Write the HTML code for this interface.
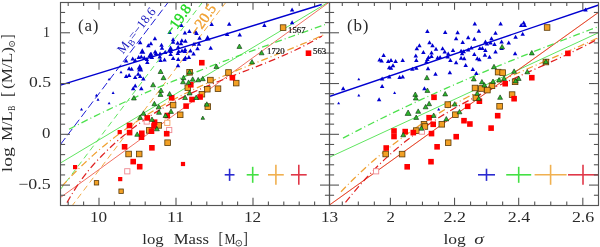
<!DOCTYPE html>
<html><head><meta charset="utf-8"><style>
html,body{margin:0;padding:0;background:#fff;width:600px;height:247px;overflow:hidden;font-family:"Liberation Serif", serif;}
svg{display:block;will-change:transform;}
</style></head><body>
<svg width="600" height="247" viewBox="0 0 600 247" font-family="'Liberation Serif', serif">
<defs>
<clipPath id="clipA"><rect x="60.5" y="2.3" width="269.5" height="202.9"/></clipPath>
<clipPath id="clipB"><rect x="330" y="2.3" width="268.7" height="202.9"/></clipPath>
</defs>
<rect width="600" height="247" fill="white"/>
<g clip-path="url(#clipA)"><line x1="60.50" y1="144.40" x2="168.15" y2="2.30" stroke="#0000d0" stroke-width="0.9" stroke-dasharray="8 3.5"/><line x1="202.40" y1="2.30" x2="60.50" y2="189.32" stroke="#4ee24e" stroke-width="0.9" stroke-dasharray="6 4"/><line x1="225.90" y1="2.30" x2="72.69" y2="205.00" stroke="#f0a030" stroke-width="0.9" stroke-dasharray="6 4"/><line x1="60.50" y1="163.00" x2="329.50" y2="1.50" stroke="#4ee24e" stroke-width="0.9"/><line x1="60.50" y1="197.50" x2="329.50" y2="2.00" stroke="#ee6050" stroke-width="0.9"/><polyline points="69.00,129.27 73.34,127.00 77.68,124.77 82.02,122.55 86.36,120.37 90.69,118.21 95.03,116.07 99.37,113.96 103.71,111.86 108.05,109.80 112.39,107.75 116.73,105.73 121.07,103.73 125.41,101.74 129.75,99.78 134.08,97.84 138.42,95.92 142.76,94.02 147.10,92.13 151.44,90.27 155.78,88.42 160.12,86.58 164.46,84.77 168.80,82.97 173.14,81.18 177.47,79.41 181.81,77.65 186.15,75.91 190.49,74.18 194.83,72.47 199.17,70.77 203.51,69.07 207.85,67.39 212.19,65.73 216.53,64.07 220.86,62.42 225.20,60.78 229.54,59.15 233.88,57.53 238.22,55.92 242.56,54.31 246.90,52.71 251.24,51.12 255.58,49.53 259.92,47.95 264.25,46.37 268.59,44.80 272.93,43.24 277.27,41.67 281.61,40.11 285.95,38.55 290.29,37.00 294.63,35.44 298.97,33.89 303.31,32.34 307.64,30.78 311.98,29.23 316.32,27.68 320.66,26.12 325.00,24.57" fill="none" stroke="#4ee24e" stroke-width="1.3" stroke-dasharray="7 3 1 3"/><polyline points="62.00,186.14 66.46,181.31 70.92,176.61 75.37,172.06 79.83,167.63 84.29,163.34 88.75,159.17 93.20,155.12 97.66,151.20 102.12,147.39 106.58,143.70 111.03,140.11 115.49,136.63 119.95,133.26 124.41,129.98 128.86,126.80 133.32,123.72 137.78,120.72 142.24,117.81 146.69,114.99 151.15,112.24 155.61,109.57 160.07,106.98 164.53,104.45 168.98,101.99 173.44,99.59 177.90,97.25 182.36,94.97 186.81,92.74 191.27,90.56 195.73,88.43 200.19,86.34 204.64,84.29 209.10,82.28 213.56,80.31 218.02,78.36 222.47,76.45 226.93,74.56 231.39,72.69 235.85,70.85 240.31,69.03 244.76,67.22 249.22,65.42 253.68,63.64 258.14,61.86 262.59,60.09 267.05,58.32 271.51,56.54 275.97,54.77 280.42,52.99 284.88,51.20 289.34,49.40 293.80,47.58 298.25,45.75 302.71,43.90 307.17,42.02 311.63,40.12 316.08,38.20 320.54,36.24 325.00,34.25" fill="none" stroke="#f0a030" stroke-width="1.25" stroke-dasharray="7 3 1 3"/><polyline points="67.00,202.59 71.32,195.07 75.64,188.15 79.97,181.76 84.29,175.85 88.61,170.38 92.93,165.27 97.25,160.48 101.58,155.96 105.90,151.64 110.22,147.49 114.54,143.50 118.86,139.66 123.19,135.96 127.51,132.41 131.83,129.00 136.15,125.72 140.47,122.56 144.80,119.53 149.12,116.61 153.44,113.80 157.76,111.10 162.08,108.50 166.41,105.99 170.73,103.58 175.05,101.25 179.37,99.00 183.69,96.83 188.02,94.72 192.34,92.68 196.66,90.70 200.98,88.78 205.31,86.90 209.63,85.07 213.95,83.27 218.27,81.51 222.59,79.78 226.92,78.08 231.24,76.39 235.56,74.71 239.88,73.04 244.20,71.38 248.53,69.71 252.85,68.04 257.17,66.35 261.49,64.64 265.81,62.92 270.14,61.16 274.46,59.37 278.78,57.54 283.10,55.67 287.42,53.75 291.75,51.78 296.07,49.74 300.39,47.65 304.71,45.48 309.03,43.24 313.36,40.92 317.68,38.51 322.00,36.02" fill="none" stroke="#e02020" stroke-width="1.25" stroke-dasharray="7 3 1 3"/><line x1="60.50" y1="85.20" x2="321.70" y2="4.50" stroke="#0000d0" stroke-width="1.35"/></g><g clip-path="url(#clipB)"><line x1="330.00" y1="157.00" x2="598.70" y2="32.60" stroke="#4ee24e" stroke-width="0.9"/><line x1="330.00" y1="204.50" x2="598.70" y2="12.10" stroke="#f0a030" stroke-width="0.6"/><line x1="330.00" y1="204.70" x2="598.70" y2="12.30" stroke="#e02020" stroke-width="0.8"/><polyline points="343.00,138.09 347.33,135.82 351.67,133.56 356.00,131.32 360.34,129.10 364.67,126.90 369.00,124.71 373.34,122.54 377.67,120.39 382.01,118.25 386.34,116.13 390.67,114.02 395.01,111.93 399.34,109.85 403.67,107.79 408.01,105.75 412.34,103.71 416.68,101.69 421.01,99.69 425.34,97.70 429.68,95.72 434.01,93.76 438.35,91.80 442.68,89.86 447.01,87.94 451.35,86.02 455.68,84.12 460.02,82.23 464.35,80.35 468.68,78.48 473.02,76.63 477.35,74.78 481.68,72.94 486.02,71.12 490.35,69.30 494.69,67.50 499.02,65.70 503.35,63.91 507.69,62.13 512.02,60.37 516.36,58.60 520.69,56.85 525.02,55.11 529.36,53.37 533.69,51.64 538.03,49.92 542.36,48.21 546.69,46.50 551.03,44.80 555.36,43.11 559.69,41.42 564.03,39.74 568.36,38.06 572.70,36.39 577.03,34.72 581.36,33.06 585.70,31.41 590.03,29.76 594.37,28.11 598.70,26.47" fill="none" stroke="#4ee24e" stroke-width="1.3" stroke-dasharray="7 3 1 3"/><polyline points="341.00,191.80 345.37,187.26 349.74,182.84 354.10,178.53 358.47,174.33 362.84,170.23 367.21,166.23 371.57,162.33 375.94,158.53 380.31,154.83 384.68,151.22 389.05,147.70 393.41,144.27 397.78,140.92 402.15,137.66 406.52,134.47 410.88,131.37 415.25,128.34 419.62,125.39 423.99,122.50 428.36,119.69 432.72,116.94 437.09,114.25 441.46,111.63 445.83,109.06 450.19,106.55 454.56,104.10 458.93,101.69 463.30,99.34 467.67,97.03 472.03,94.77 476.40,92.55 480.77,90.37 485.14,88.22 489.51,86.11 493.87,84.03 498.24,81.98 502.61,79.96 506.98,77.97 511.34,75.99 515.71,74.04 520.08,72.10 524.45,70.18 528.82,68.27 533.18,66.37 537.55,64.48 541.92,62.59 546.29,60.71 550.65,58.83 555.02,56.94 559.39,55.05 563.76,53.16 568.13,51.25 572.49,49.34 576.86,47.41 581.23,45.46 585.60,43.49 589.96,41.51 594.33,39.49 598.70,37.46" fill="none" stroke="#f0a030" stroke-width="1.25" stroke-dasharray="7 3 1 3"/><polyline points="345.50,202.42 349.79,197.04 354.08,191.84 358.37,186.81 362.67,181.94 366.96,177.23 371.25,172.68 375.54,168.28 379.83,164.02 384.12,159.91 388.42,155.93 392.71,152.08 397.00,148.36 401.29,144.76 405.58,141.28 409.87,137.91 414.16,134.65 418.46,131.49 422.75,128.42 427.04,125.45 431.33,122.57 435.62,119.77 439.91,117.05 444.21,114.40 448.50,111.82 452.79,109.31 457.08,106.85 461.37,104.46 465.66,102.12 469.95,99.83 474.25,97.59 478.54,95.39 482.83,93.23 487.12,91.12 491.41,89.03 495.70,86.98 499.99,84.96 504.29,82.96 508.58,80.99 512.87,79.03 517.16,77.09 521.45,75.16 525.74,73.23 530.04,71.31 534.33,69.40 538.62,67.48 542.91,65.56 547.20,63.63 551.49,61.68 555.78,59.72 560.08,57.75 564.37,55.75 568.66,53.73 572.95,51.68 577.24,49.59 581.53,47.48 585.83,45.32 590.12,43.12 594.41,40.88 598.70,38.59" fill="none" stroke="#e02020" stroke-width="1.25" stroke-dasharray="7 3 1 3"/><line x1="330.00" y1="96.30" x2="598.70" y2="5.00" stroke="#0000d0" stroke-width="1.35"/></g>
<polygon points="137.95,44.23 142.45,44.23 140.20,40.18" fill="#0000d0"/><polygon points="152.65,40.23 157.15,40.23 154.90,36.18" fill="#0000d0"/><polygon points="146.05,47.23 150.55,47.23 148.30,43.18" fill="#0000d0"/><polygon points="148.65,45.23 153.15,45.23 150.90,41.18" fill="#0000d0"/><polygon points="167.35,34.12 171.85,34.12 169.60,30.08" fill="#0000d0"/><polygon points="170.85,41.23 175.35,41.23 173.10,37.18" fill="#0000d0"/><polygon points="170.85,43.73 175.35,43.73 173.10,39.68" fill="#0000d0"/><polygon points="159.25,46.73 163.75,46.73 161.50,42.68" fill="#0000d0"/><polygon points="159.75,49.82 164.25,49.82 162.00,45.77" fill="#0000d0"/><polygon points="167.60,51.00 173.60,51.00 170.60,45.60" fill="#0000d0"/><polygon points="175.45,44.73 179.95,44.73 177.70,40.68" fill="#0000d0"/><polygon points="175.95,48.82 180.45,48.82 178.20,44.77" fill="#0000d0"/><polygon points="179.15,27.12 183.65,27.12 181.40,23.08" fill="#0000d0"/><polygon points="182.65,34.62 187.15,34.62 184.90,30.58" fill="#0000d0"/><polygon points="187.15,33.12 191.65,33.12 189.40,29.08" fill="#0000d0"/><polygon points="193.25,33.62 197.75,33.62 195.50,29.58" fill="#0000d0"/><polygon points="194.25,35.12 198.75,35.12 196.50,31.08" fill="#0000d0"/><polygon points="197.25,39.73 201.75,39.73 199.50,35.68" fill="#0000d0"/><polygon points="204.60,40.40 210.60,40.40 207.60,35.00" fill="#0000d0"/><polygon points="209.35,26.02 213.85,26.02 211.60,21.98" fill="#0000d0"/><polygon points="179.55,42.23 184.05,42.23 181.80,38.18" fill="#0000d0"/><polygon points="183.15,42.73 187.65,42.73 185.40,38.68" fill="#0000d0"/><polygon points="191.75,45.73 196.25,45.73 194.00,41.68" fill="#0000d0"/><polygon points="196.75,45.73 201.25,45.73 199.00,41.68" fill="#0000d0"/><polygon points="195.25,50.32 199.75,50.32 197.50,46.27" fill="#0000d0"/><polygon points="208.45,49.82 212.95,49.82 210.70,45.77" fill="#0000d0"/><polygon points="224.85,36.12 229.35,36.12 227.10,32.08" fill="#0000d0"/><polygon points="237.45,36.62 241.95,36.62 239.70,32.58" fill="#0000d0"/><polygon points="178.75,45.23 183.25,45.23 181.00,41.18" fill="#0000d0"/><polygon points="182.85,51.32 187.35,51.32 185.10,47.27" fill="#0000d0"/><polygon points="226.95,25.72 231.45,25.72 229.20,21.68" fill="#0000d0"/><polygon points="262.15,27.02 266.65,27.02 264.40,22.98" fill="#0000d0"/><polygon points="289.85,11.53 294.35,11.53 292.10,7.47" fill="#0000d0"/><polygon points="289.85,24.22 294.35,24.22 292.10,20.18" fill="#0000d0"/><polygon points="139.30,53.70 145.30,53.70 142.30,48.30" fill="#0000d0"/><polygon points="123.85,62.62 128.35,62.62 126.10,58.58" fill="#0000d0"/><polygon points="130.45,60.62 134.95,60.62 132.70,56.58" fill="#0000d0"/><polygon points="132.95,62.12 137.45,62.12 135.20,58.08" fill="#0000d0"/><polygon points="136.45,59.12 140.95,59.12 138.70,55.08" fill="#0000d0"/><polygon points="139.05,58.62 143.55,58.62 141.30,54.58" fill="#0000d0"/><polygon points="142.05,59.62 146.55,59.62 144.30,55.58" fill="#0000d0"/><polygon points="144.55,61.12 149.05,61.12 146.80,57.08" fill="#0000d0"/><polygon points="145.05,64.12 149.55,64.12 147.30,60.08" fill="#0000d0"/><polygon points="147.40,57.30 153.40,57.30 150.40,51.90" fill="#0000d0"/><polygon points="149.65,59.12 154.15,59.12 151.90,55.08" fill="#0000d0"/><polygon points="152.92,53.62 157.42,53.62 155.17,49.58" fill="#0000d0"/><polygon points="157.75,55.52 162.25,55.52 160.00,51.48" fill="#0000d0"/><polygon points="157.55,58.38 162.05,58.38 159.80,54.33" fill="#0000d0"/><polygon points="158.25,62.12 162.75,62.12 160.50,58.08" fill="#0000d0"/><polygon points="162.25,61.62 166.75,61.62 164.50,57.58" fill="#0000d0"/><polygon points="168.35,56.02 172.85,56.02 170.60,51.98" fill="#0000d0"/><polygon points="170.85,60.12 175.35,60.12 173.10,56.08" fill="#0000d0"/><polygon points="175.95,61.12 180.45,61.12 178.20,57.08" fill="#0000d0"/><polygon points="175.75,67.23 180.25,67.23 178.00,63.18" fill="#0000d0"/><polygon points="168.65,53.02 173.15,53.02 170.90,48.98" fill="#0000d0"/><polygon points="176.45,53.02 180.95,53.02 178.70,48.98" fill="#0000d0"/><polygon points="126.85,70.23 131.35,70.23 129.10,66.17" fill="#0000d0"/><polygon points="129.35,70.73 133.85,70.73 131.60,66.67" fill="#0000d0"/><polygon points="136.70,69.40 142.70,69.40 139.70,64.00" fill="#0000d0"/><polygon points="137.20,71.40 143.20,71.40 140.20,66.00" fill="#0000d0"/><polygon points="119.50,73.15 122.50,73.15 121.00,70.45" fill="#0000d0"/><polygon points="126.85,76.93 131.35,76.93 129.10,72.88" fill="#0000d0"/><polygon points="135.95,75.83 140.45,75.83 138.20,71.77" fill="#0000d0"/><polygon points="182.15,61.12 186.65,61.12 184.40,57.08" fill="#0000d0"/><polygon points="183.15,59.62 187.65,59.62 185.40,55.58" fill="#0000d0"/><polygon points="186.65,59.12 191.15,59.12 188.90,55.08" fill="#0000d0"/><polygon points="191.25,55.52 195.75,55.52 193.50,51.48" fill="#0000d0"/><polygon points="153.75,55.02 158.25,55.02 156.00,50.98" fill="#0000d0"/><polygon points="175.55,55.02 180.05,55.02 177.80,50.98" fill="#0000d0"/><polygon points="182.65,53.02 187.15,53.02 184.90,48.98" fill="#0000d0"/><polygon points="162.85,54.02 167.35,54.02 165.10,49.98" fill="#0000d0"/><polygon points="188.15,52.52 192.65,52.52 190.40,48.48" fill="#0000d0"/><polygon points="179.75,52.52 184.25,52.52 182.00,48.48" fill="#0000d0"/><polygon points="148.85,55.82 153.35,55.82 151.10,51.77" fill="#0000d0"/><polygon points="123.85,78.03 128.35,78.03 126.10,73.97" fill="#0000d0"/><polygon points="132.95,79.03 137.45,79.03 135.20,74.97" fill="#0000d0"/><polygon points="137.95,78.03 142.45,78.03 140.20,73.97" fill="#0000d0"/><polygon points="141.05,80.53 145.55,80.53 143.30,76.47" fill="#0000d0"/><polygon points="132.95,87.62 137.45,87.62 135.20,83.57" fill="#0000d0"/><polygon points="130.95,90.23 135.45,90.23 133.20,86.17" fill="#0000d0"/><polygon points="139.05,90.23 143.55,90.23 141.30,86.17" fill="#0000d0"/><polygon points="107.60,80.35 110.60,80.35 109.10,77.65" fill="#0000d0"/><polygon points="111.60,94.05 114.60,94.05 113.10,91.35" fill="#0000d0"/><polygon points="94.90,96.55 97.90,96.55 96.40,93.85" fill="#0000d0"/><polygon points="96.50,100.65 99.50,100.65 98.00,97.95" fill="#0000d0"/><polygon points="107.60,104.35 110.60,104.35 109.10,101.65" fill="#0000d0"/><polygon points="80.00,110.45 83.00,110.45 81.50,107.75" fill="#0000d0"/><rect x="280.30" y="24.80" width="5.60" height="5.60" fill="#f2a024" stroke="#5a3a08" stroke-width="0.8"/><rect x="186.80" y="69.50" width="5.60" height="5.60" fill="#f2a024" stroke="#5a3a08" stroke-width="0.8"/><rect x="225.70" y="69.70" width="5.60" height="5.60" fill="#f2a024" stroke="#5a3a08" stroke-width="0.8"/><rect x="207.60" y="77.30" width="5.60" height="5.60" fill="#f2a024" stroke="#5a3a08" stroke-width="0.8"/><rect x="233.40" y="80.30" width="5.60" height="5.60" fill="#f2a024" stroke="#5a3a08" stroke-width="0.8"/><rect x="215.20" y="85.90" width="5.60" height="5.60" fill="#f2a024" stroke="#5a3a08" stroke-width="0.8"/><rect x="204.50" y="86.40" width="5.60" height="5.60" fill="#f2a024" stroke="#5a3a08" stroke-width="0.8"/><rect x="185.00" y="84.90" width="5.60" height="5.60" fill="#f2a024" stroke="#5a3a08" stroke-width="0.8"/><rect x="199.10" y="91.40" width="5.60" height="5.60" fill="#f2a024" stroke="#5a3a08" stroke-width="0.8"/><rect x="170.30" y="102.30" width="5.60" height="5.60" fill="#f2a024" stroke="#5a3a08" stroke-width="0.8"/><rect x="177.40" y="112.00" width="5.60" height="5.60" fill="#f2a024" stroke="#5a3a08" stroke-width="0.8"/><rect x="205.00" y="103.80" width="5.60" height="5.60" fill="#f2a024" stroke="#5a3a08" stroke-width="0.8"/><rect x="146.40" y="127.60" width="5.60" height="5.60" fill="#f2a024" stroke="#5a3a08" stroke-width="0.8"/><rect x="164.80" y="139.90" width="5.60" height="5.60" fill="#f2a024" stroke="#5a3a08" stroke-width="0.8"/><rect x="125.80" y="151.20" width="5.60" height="5.60" fill="#f2a024" stroke="#5a3a08" stroke-width="0.8"/><rect x="136.40" y="151.20" width="5.60" height="5.60" fill="#f2a024" stroke="#5a3a08" stroke-width="0.8"/><rect x="94.30" y="180.60" width="4.40" height="4.40" fill="#f2a024" stroke="#5a3a08" stroke-width="0.8"/><rect x="118.90" y="189.00" width="4.40" height="4.40" fill="#f2a024" stroke="#5a3a08" stroke-width="0.8"/><rect x="156.00" y="122.60" width="5.60" height="5.60" fill="#f2a024" stroke="#5a3a08" stroke-width="0.8"/><rect x="164.70" y="120.20" width="5.20" height="5.20" fill="white" stroke="#f4a060" stroke-width="0.9"/><rect x="166.60" y="127.40" width="5.20" height="5.20" fill="white" stroke="#f08890" stroke-width="0.9"/><rect x="144.10" y="118.90" width="5.20" height="5.20" fill="white" stroke="#f08890" stroke-width="0.9"/><rect x="124.70" y="168.70" width="5.20" height="5.20" fill="white" stroke="#f08890" stroke-width="0.9"/><rect x="199.00" y="59.90" width="5.60" height="5.60" fill="#ff0000"/><rect x="229.60" y="74.90" width="5.60" height="5.60" fill="#ff0000"/><rect x="188.00" y="82.00" width="5.60" height="5.60" fill="#ff0000"/><rect x="168.90" y="95.00" width="5.60" height="5.60" fill="#ff0000"/><rect x="197.30" y="94.20" width="5.60" height="5.60" fill="#ff0000"/><rect x="189.20" y="96.70" width="5.60" height="5.60" fill="#ff0000"/><rect x="183.30" y="103.30" width="5.60" height="5.60" fill="#ff0000"/><rect x="144.50" y="115.10" width="5.60" height="5.60" fill="#ff0000"/><rect x="151.80" y="119.40" width="5.60" height="5.60" fill="#ff0000"/><rect x="164.50" y="112.70" width="5.60" height="5.60" fill="#ff0000"/><rect x="139.00" y="130.50" width="5.60" height="5.60" fill="#ff0000"/><rect x="138.70" y="134.40" width="5.60" height="5.60" fill="#ff0000"/><rect x="126.80" y="129.80" width="5.60" height="5.60" fill="#ff0000"/><rect x="126.70" y="122.70" width="5.60" height="5.60" fill="#ff0000"/><rect x="117.60" y="130.00" width="4.20" height="4.20" fill="#ff0000"/><rect x="148.70" y="128.40" width="5.60" height="5.60" fill="#ff0000"/><rect x="151.20" y="123.20" width="5.60" height="5.60" fill="#ff0000"/><rect x="163.90" y="130.90" width="5.60" height="5.60" fill="#ff0000"/><rect x="121.80" y="144.00" width="5.60" height="5.60" fill="#ff0000"/><rect x="149.10" y="145.00" width="5.60" height="5.60" fill="#ff0000"/><rect x="130.40" y="158.80" width="5.60" height="5.60" fill="#ff0000"/><rect x="136.90" y="163.90" width="5.60" height="5.60" fill="#ff0000"/><rect x="73.00" y="165.00" width="4.20" height="4.20" fill="#ff0000"/><rect x="118.10" y="177.00" width="4.20" height="4.20" fill="#ff0000"/><rect x="180.90" y="161.90" width="4.20" height="4.20" fill="#ff0000"/><rect x="305.70" y="50.40" width="5.60" height="5.60" fill="#ff0000"/><polygon points="158.15,73.50 163.05,73.50 160.60,69.09" fill="#2cb82c" stroke="#0a2a0a" stroke-width="0.6"/><polygon points="236.95,48.41 241.85,48.41 239.40,44.00" fill="#2cb82c" stroke="#0a2a0a" stroke-width="0.6"/><polygon points="259.15,54.80 264.05,54.80 261.60,50.40" fill="#2cb82c" stroke="#0a2a0a" stroke-width="0.6"/><polygon points="249.55,63.91 254.45,63.91 252.00,59.50" fill="#2cb82c" stroke="#0a2a0a" stroke-width="0.6"/><polygon points="213.95,68.41 218.85,68.41 216.40,64.00" fill="#2cb82c" stroke="#0a2a0a" stroke-width="0.6"/><polygon points="150.65,86.80 155.55,86.80 153.10,82.39" fill="#2cb82c" stroke="#0a2a0a" stroke-width="0.6"/><polygon points="131.45,100.00 136.35,100.00 133.90,95.59" fill="#2cb82c" stroke="#0a2a0a" stroke-width="0.6"/><polygon points="161.05,79.70 165.95,79.70 163.50,75.30" fill="#2cb82c" stroke="#0a2a0a" stroke-width="0.6"/><polygon points="158.55,92.41 163.45,92.41 161.00,88.00" fill="#2cb82c" stroke="#0a2a0a" stroke-width="0.6"/><polygon points="158.05,96.41 162.95,96.41 160.50,92.00" fill="#2cb82c" stroke="#0a2a0a" stroke-width="0.6"/><polygon points="167.15,95.91 172.05,95.91 169.60,91.50" fill="#2cb82c" stroke="#0a2a0a" stroke-width="0.6"/><polygon points="181.05,79.70 185.95,79.70 183.50,75.30" fill="#2cb82c" stroke="#0a2a0a" stroke-width="0.6"/><polygon points="190.25,81.20 195.15,81.20 192.70,76.80" fill="#2cb82c" stroke="#0a2a0a" stroke-width="0.6"/><polygon points="195.75,81.80 200.65,81.80 198.20,77.39" fill="#2cb82c" stroke="#0a2a0a" stroke-width="0.6"/><polygon points="200.35,80.70 205.25,80.70 202.80,76.30" fill="#2cb82c" stroke="#0a2a0a" stroke-width="0.6"/><polygon points="180.55,83.80 185.45,83.80 183.00,79.39" fill="#2cb82c" stroke="#0a2a0a" stroke-width="0.6"/><polygon points="186.15,84.30 191.05,84.30 188.60,79.89" fill="#2cb82c" stroke="#0a2a0a" stroke-width="0.6"/><polygon points="187.15,94.91 192.05,94.91 189.60,90.50" fill="#2cb82c" stroke="#0a2a0a" stroke-width="0.6"/><polygon points="182.65,99.50 187.55,99.50 185.10,95.09" fill="#2cb82c" stroke="#0a2a0a" stroke-width="0.6"/><polygon points="193.75,99.50 198.65,99.50 196.20,95.09" fill="#2cb82c" stroke="#0a2a0a" stroke-width="0.6"/><polygon points="151.95,105.70 156.85,105.70 154.40,101.30" fill="#2cb82c" stroke="#0a2a0a" stroke-width="0.6"/><polygon points="156.25,108.80 161.15,108.80 158.70,104.39" fill="#2cb82c" stroke="#0a2a0a" stroke-width="0.6"/><polygon points="156.55,114.30 161.45,114.30 159.00,109.89" fill="#2cb82c" stroke="#0a2a0a" stroke-width="0.6"/><polygon points="141.05,115.30 145.95,115.30 143.50,110.89" fill="#2cb82c" stroke="#0a2a0a" stroke-width="0.6"/><polygon points="168.55,113.41 173.45,113.41 171.00,109.00" fill="#2cb82c" stroke="#0a2a0a" stroke-width="0.6"/><polygon points="163.05,117.50 167.95,117.50 165.50,113.09" fill="#2cb82c" stroke="#0a2a0a" stroke-width="0.6"/><polygon points="137.75,119.41 142.65,119.41 140.20,115.00" fill="#2cb82c" stroke="#0a2a0a" stroke-width="0.6"/><polygon points="149.55,121.41 154.45,121.41 152.00,117.00" fill="#2cb82c" stroke="#0a2a0a" stroke-width="0.6"/><polygon points="204.35,106.20 209.25,106.20 206.80,101.80" fill="#2cb82c" stroke="#0a2a0a" stroke-width="0.6"/><polygon points="201.00,119.32 204.60,119.32 202.80,116.08" fill="#2cb82c" stroke="#0a2a0a" stroke-width="0.6"/><polygon points="134.75,136.31 139.65,136.31 137.20,131.89" fill="#2cb82c" stroke="#0a2a0a" stroke-width="0.6"/><polygon points="154.45,130.81 159.35,130.81 156.90,126.39" fill="#2cb82c" stroke="#0a2a0a" stroke-width="0.6"/><polygon points="187.15,74.00 192.05,74.00 189.60,69.59" fill="#2cb82c" stroke="#0a2a0a" stroke-width="0.6"/><polygon points="583.25,11.62 587.75,11.62 585.50,7.57" fill="#0000d0"/><polygon points="472.55,25.62 477.05,25.62 474.80,21.58" fill="#0000d0"/><polygon points="498.35,25.62 502.85,25.62 500.60,21.58" fill="#0000d0"/><polygon points="521.45,24.62 525.95,24.62 523.70,20.58" fill="#0000d0"/><polygon points="518.95,27.12 523.45,27.12 521.20,23.08" fill="#0000d0"/><polygon points="522.45,27.12 526.95,27.12 524.70,23.08" fill="#0000d0"/><polygon points="425.15,33.12 429.65,33.12 427.40,29.08" fill="#0000d0"/><polygon points="442.95,34.12 447.45,34.12 445.20,30.08" fill="#0000d0"/><polygon points="455.35,34.23 459.85,34.23 457.60,30.18" fill="#0000d0"/><polygon points="476.55,32.73 481.05,32.73 478.80,28.68" fill="#0000d0"/><polygon points="493.25,34.73 497.75,34.73 495.50,30.68" fill="#0000d0"/><polygon points="520.45,35.73 524.95,35.73 522.70,31.68" fill="#0000d0"/><polygon points="513.35,38.82 517.85,38.82 515.60,34.77" fill="#0000d0"/><polygon points="453.85,40.32 458.35,40.32 456.10,36.27" fill="#0000d0"/><polygon points="465.95,39.32 470.45,39.32 468.20,35.27" fill="#0000d0"/><polygon points="472.05,40.82 476.55,40.82 474.30,36.77" fill="#0000d0"/><polygon points="489.25,40.32 493.75,40.32 491.50,36.27" fill="#0000d0"/><polygon points="427.25,44.23 431.75,44.23 429.50,40.18" fill="#0000d0"/><polygon points="430.25,47.23 434.75,47.23 432.50,43.18" fill="#0000d0"/><polygon points="417.15,47.23 421.65,47.23 419.40,43.18" fill="#0000d0"/><polygon points="414.55,50.32 419.05,50.32 416.80,46.27" fill="#0000d0"/><polygon points="433.75,50.82 438.25,50.82 436.00,46.77" fill="#0000d0"/><polygon points="440.35,50.32 444.85,50.32 442.60,46.27" fill="#0000d0"/><polygon points="460.45,44.02 464.95,44.02 462.70,39.98" fill="#0000d0"/><polygon points="483.15,43.52 487.65,43.52 485.40,39.48" fill="#0000d0"/><polygon points="484.65,45.62 489.15,45.62 486.90,41.58" fill="#0000d0"/><polygon points="488.25,44.62 492.75,44.62 490.50,40.58" fill="#0000d0"/><polygon points="492.25,46.12 496.75,46.12 494.50,42.08" fill="#0000d0"/><polygon points="499.35,43.52 503.85,43.52 501.60,39.48" fill="#0000d0"/><polygon points="506.45,44.62 510.95,44.62 508.70,40.58" fill="#0000d0"/><polygon points="469.05,49.62 473.55,49.62 471.30,45.58" fill="#0000d0"/><polygon points="477.65,50.12 482.15,50.12 479.90,46.08" fill="#0000d0"/><polygon points="480.15,50.12 484.65,50.12 482.40,46.08" fill="#0000d0"/><polygon points="483.15,52.12 487.65,52.12 485.40,48.08" fill="#0000d0"/><polygon points="450.75,52.12 455.25,52.12 453.00,48.08" fill="#0000d0"/><polygon points="458.85,52.73 463.35,52.73 461.10,48.68" fill="#0000d0"/><polygon points="461.45,53.23 465.95,53.23 463.70,49.18" fill="#0000d0"/><polygon points="465.95,51.62 470.45,51.62 468.20,47.58" fill="#0000d0"/><polygon points="493.25,53.48 497.75,53.48 495.50,49.43" fill="#0000d0"/><polygon points="459.85,55.23 464.35,55.23 462.10,51.18" fill="#0000d0"/><polygon points="472.05,55.98 476.55,55.98 474.30,51.93" fill="#0000d0"/><polygon points="482.65,56.73 487.15,56.73 484.90,52.68" fill="#0000d0"/><polygon points="487.25,58.73 491.75,58.73 489.50,54.68" fill="#0000d0"/><polygon points="458.85,59.73 463.35,59.73 461.10,55.68" fill="#0000d0"/><polygon points="461.95,60.23 466.45,60.23 464.20,56.18" fill="#0000d0"/><polygon points="475.05,60.23 479.55,60.23 477.30,56.18" fill="#0000d0"/><polygon points="477.15,61.32 481.65,61.32 479.40,57.27" fill="#0000d0"/><polygon points="448.10,61.98 452.60,61.98 450.35,57.93" fill="#0000d0"/><polygon points="499.35,50.12 503.85,50.12 501.60,46.08" fill="#0000d0"/><polygon points="453.85,64.33 458.35,64.33 456.10,60.27" fill="#0000d0"/><polygon points="512.85,55.23 517.35,55.23 515.10,51.18" fill="#0000d0"/><polygon points="421.15,54.02 425.65,54.02 423.40,49.98" fill="#0000d0"/><polygon points="429.25,54.52 433.75,54.52 431.50,50.48" fill="#0000d0"/><polygon points="429.25,58.12 433.75,58.12 431.50,54.08" fill="#0000d0"/><polygon points="426.25,59.12 430.75,59.12 428.50,55.08" fill="#0000d0"/><polygon points="425.15,61.12 429.65,61.12 427.40,57.08" fill="#0000d0"/><polygon points="424.15,63.62 428.65,63.62 426.40,59.58" fill="#0000d0"/><polygon points="435.35,59.62 439.85,59.62 437.60,55.58" fill="#0000d0"/><polygon points="437.85,59.12 442.35,59.12 440.10,55.08" fill="#0000d0"/><polygon points="442.45,53.52 446.95,53.52 444.70,49.48" fill="#0000d0"/><polygon points="445.95,55.52 450.45,55.52 448.20,51.48" fill="#0000d0"/><polygon points="445.45,58.62 449.95,58.62 447.70,54.58" fill="#0000d0"/><polygon points="413.55,57.62 418.05,57.62 415.80,53.58" fill="#0000d0"/><polygon points="414.05,62.12 418.55,62.12 416.30,58.08" fill="#0000d0"/><polygon points="400.45,62.12 404.95,62.12 402.70,58.08" fill="#0000d0"/><polygon points="393.35,63.12 397.85,63.12 395.60,59.08" fill="#0000d0"/><polygon points="388.75,62.12 393.25,62.12 391.00,58.08" fill="#0000d0"/><polygon points="390.75,67.23 395.25,67.23 393.00,63.18" fill="#0000d0"/><polygon points="388.75,69.73 393.25,69.73 391.00,65.67" fill="#0000d0"/><polygon points="410.05,70.73 414.55,70.73 412.30,66.67" fill="#0000d0"/><polygon points="414.05,69.73 418.55,69.73 416.30,65.67" fill="#0000d0"/><polygon points="425.75,70.23 430.25,70.23 428.00,66.17" fill="#0000d0"/><polygon points="433.25,75.83 437.75,75.83 435.50,71.77" fill="#0000d0"/><polygon points="447.60,74.22 452.10,74.22 449.85,70.17" fill="#0000d0"/><polygon points="381.35,57.12 385.85,57.12 383.60,53.08" fill="#0000d0"/><polygon points="377.35,61.62 381.85,61.62 379.60,57.58" fill="#0000d0"/><polygon points="379.35,62.62 383.85,62.62 381.60,58.58" fill="#0000d0"/><polygon points="385.95,63.12 390.45,63.12 388.20,59.08" fill="#0000d0"/><polygon points="386.95,69.23 391.45,69.23 389.20,65.17" fill="#0000d0"/><polygon points="340.95,90.23 345.45,90.23 343.20,86.17" fill="#0000d0"/><polygon points="357.30,80.35 360.30,80.35 358.80,77.65" fill="#0000d0"/><polygon points="357.30,96.55 360.30,96.55 358.80,93.85" fill="#0000d0"/><polygon points="379.85,80.53 384.35,80.53 382.10,76.47" fill="#0000d0"/><polygon points="379.85,88.12 384.35,88.12 382.10,84.07" fill="#0000d0"/><polygon points="376.85,101.33 381.35,101.33 379.10,97.27" fill="#0000d0"/><polygon points="386.95,78.53 391.45,78.53 389.20,74.47" fill="#0000d0"/><polygon points="397.35,79.03 401.85,79.03 399.60,74.97" fill="#0000d0"/><polygon points="400.45,78.53 404.95,78.53 402.70,74.47" fill="#0000d0"/><polygon points="422.15,90.23 426.65,90.23 424.40,86.17" fill="#0000d0"/><polygon points="393.10,94.05 396.10,94.05 394.60,91.35" fill="#0000d0"/><polygon points="463.45,67.03 467.95,67.03 465.70,62.98" fill="#0000d0"/><polygon points="470.55,71.12 475.05,71.12 472.80,67.07" fill="#0000d0"/><polygon points="474.05,75.12 478.55,75.12 476.30,71.07" fill="#0000d0"/><polygon points="337.10,104.35 340.10,104.35 338.60,101.65" fill="#0000d0"/><polygon points="437.20,110.45 440.20,110.45 438.70,107.75" fill="#0000d0"/><rect x="544.30" y="24.70" width="5.60" height="5.60" fill="#f2a024" stroke="#5a3a08" stroke-width="0.8"/><rect x="495.30" y="69.30" width="5.60" height="5.60" fill="#f2a024" stroke="#5a3a08" stroke-width="0.8"/><rect x="499.80" y="69.80" width="5.60" height="5.60" fill="#f2a024" stroke="#5a3a08" stroke-width="0.8"/><rect x="489.20" y="83.00" width="5.60" height="5.60" fill="#f2a024" stroke="#5a3a08" stroke-width="0.8"/><rect x="472.20" y="85.20" width="5.60" height="5.60" fill="#f2a024" stroke="#5a3a08" stroke-width="0.8"/><rect x="484.60" y="87.30" width="5.60" height="5.60" fill="#f2a024" stroke="#5a3a08" stroke-width="0.8"/><rect x="478.60" y="85.70" width="5.60" height="5.60" fill="#f2a024" stroke="#5a3a08" stroke-width="0.8"/><rect x="473.00" y="94.90" width="5.60" height="5.60" fill="#f2a024" stroke="#5a3a08" stroke-width="0.8"/><rect x="496.80" y="103.50" width="5.60" height="5.60" fill="#f2a024" stroke="#5a3a08" stroke-width="0.8"/><rect x="509.30" y="91.80" width="5.60" height="5.60" fill="#f2a024" stroke="#5a3a08" stroke-width="0.8"/><rect x="512.30" y="79.00" width="5.60" height="5.60" fill="#f2a024" stroke="#5a3a08" stroke-width="0.8"/><rect x="445.00" y="101.80" width="5.60" height="5.60" fill="#f2a024" stroke="#5a3a08" stroke-width="0.8"/><rect x="452.60" y="111.90" width="5.60" height="5.60" fill="#f2a024" stroke="#5a3a08" stroke-width="0.8"/><rect x="439.00" y="121.50" width="5.60" height="5.60" fill="#f2a024" stroke="#5a3a08" stroke-width="0.8"/><rect x="421.20" y="121.50" width="5.60" height="5.60" fill="#f2a024" stroke="#5a3a08" stroke-width="0.8"/><rect x="445.40" y="139.90" width="5.60" height="5.60" fill="#f2a024" stroke="#5a3a08" stroke-width="0.8"/><rect x="399.30" y="151.30" width="5.60" height="5.60" fill="#f2a024" stroke="#5a3a08" stroke-width="0.8"/><rect x="382.90" y="151.20" width="5.60" height="5.60" fill="#f2a024" stroke="#5a3a08" stroke-width="0.8"/><rect x="413.50" y="127.80" width="5.60" height="5.60" fill="#f2a024" stroke="#5a3a08" stroke-width="0.8"/><rect x="422.10" y="123.70" width="5.60" height="5.60" fill="#f2a024" stroke="#5a3a08" stroke-width="0.8"/><rect x="543.10" y="59.20" width="5.60" height="5.60" fill="#f2a024" stroke="#5a3a08" stroke-width="0.8"/><rect x="373.50" y="168.70" width="5.20" height="5.20" fill="white" stroke="#f08890" stroke-width="0.9"/><rect x="419.30" y="129.00" width="5.20" height="5.20" fill="white" stroke="#f08890" stroke-width="0.9"/><rect x="565.10" y="50.60" width="5.60" height="5.60" fill="#ff0000"/><rect x="502.40" y="80.90" width="5.60" height="5.60" fill="#ff0000"/><rect x="529.00" y="74.90" width="5.60" height="5.60" fill="#ff0000"/><rect x="476.60" y="98.40" width="5.60" height="5.60" fill="#ff0000"/><rect x="464.90" y="103.50" width="5.60" height="5.60" fill="#ff0000"/><rect x="431.20" y="94.50" width="5.60" height="5.60" fill="#ff0000"/><rect x="426.30" y="114.90" width="5.60" height="5.60" fill="#ff0000"/><rect x="461.20" y="117.90" width="5.60" height="5.60" fill="#ff0000"/><rect x="467.10" y="121.20" width="5.60" height="5.60" fill="#ff0000"/><rect x="430.40" y="121.50" width="5.60" height="5.60" fill="#ff0000"/><rect x="494.90" y="112.90" width="5.60" height="5.60" fill="#ff0000"/><rect x="511.30" y="95.90" width="5.60" height="5.60" fill="#ff0000"/><rect x="391.20" y="128.20" width="5.60" height="5.60" fill="#ff0000"/><rect x="391.20" y="133.70" width="5.60" height="5.60" fill="#ff0000"/><rect x="402.40" y="128.80" width="5.60" height="5.60" fill="#ff0000"/><rect x="410.50" y="129.80" width="5.60" height="5.60" fill="#ff0000"/><rect x="428.70" y="130.80" width="5.60" height="5.60" fill="#ff0000"/><rect x="434.30" y="144.00" width="5.60" height="5.60" fill="#ff0000"/><rect x="453.40" y="133.90" width="5.60" height="5.60" fill="#ff0000"/><rect x="488.30" y="125.30" width="5.60" height="5.60" fill="#ff0000"/><rect x="428.20" y="158.90" width="5.60" height="5.60" fill="#ff0000"/><rect x="404.40" y="164.00" width="5.60" height="5.60" fill="#ff0000"/><rect x="383.40" y="145.20" width="5.60" height="5.60" fill="#ff0000"/><polygon points="499.65,48.80 504.55,48.80 502.10,44.40" fill="#2cb82c" stroke="#0a2a0a" stroke-width="0.6"/><polygon points="529.35,54.91 534.25,54.91 531.80,50.50" fill="#2cb82c" stroke="#0a2a0a" stroke-width="0.6"/><polygon points="491.55,68.70 496.45,68.70 494.00,64.30" fill="#2cb82c" stroke="#0a2a0a" stroke-width="0.6"/><polygon points="471.35,80.91 476.25,80.91 473.80,76.50" fill="#2cb82c" stroke="#0a2a0a" stroke-width="0.6"/><polygon points="479.45,83.91 484.35,83.91 481.90,79.50" fill="#2cb82c" stroke="#0a2a0a" stroke-width="0.6"/><polygon points="481.95,87.00 486.85,87.00 484.40,82.59" fill="#2cb82c" stroke="#0a2a0a" stroke-width="0.6"/><polygon points="490.55,83.41 495.45,83.41 493.00,79.00" fill="#2cb82c" stroke="#0a2a0a" stroke-width="0.6"/><polygon points="496.65,81.91 501.55,81.91 499.10,77.50" fill="#2cb82c" stroke="#0a2a0a" stroke-width="0.6"/><polygon points="501.65,80.41 506.55,80.41 504.10,76.00" fill="#2cb82c" stroke="#0a2a0a" stroke-width="0.6"/><polygon points="424.45,79.70 429.35,79.70 426.90,75.30" fill="#2cb82c" stroke="#0a2a0a" stroke-width="0.6"/><polygon points="424.95,92.41 429.85,92.41 427.40,88.00" fill="#2cb82c" stroke="#0a2a0a" stroke-width="0.6"/><polygon points="442.75,95.91 447.65,95.91 445.20,91.50" fill="#2cb82c" stroke="#0a2a0a" stroke-width="0.6"/><polygon points="412.85,96.41 417.75,96.41 415.30,92.00" fill="#2cb82c" stroke="#0a2a0a" stroke-width="0.6"/><polygon points="413.35,100.00 418.25,100.00 415.80,95.59" fill="#2cb82c" stroke="#0a2a0a" stroke-width="0.6"/><polygon points="474.85,95.30 479.75,95.30 477.30,90.89" fill="#2cb82c" stroke="#0a2a0a" stroke-width="0.6"/><polygon points="476.35,100.41 481.25,100.41 478.80,96.00" fill="#2cb82c" stroke="#0a2a0a" stroke-width="0.6"/><polygon points="497.65,99.30 502.55,99.30 500.10,94.89" fill="#2cb82c" stroke="#0a2a0a" stroke-width="0.6"/><polygon points="452.30,106.05 457.20,106.05 454.75,101.64" fill="#2cb82c" stroke="#0a2a0a" stroke-width="0.6"/><polygon points="511.65,73.30 516.55,73.30 514.10,68.89" fill="#2cb82c" stroke="#0a2a0a" stroke-width="0.6"/><polygon points="524.85,73.80 529.75,73.80 527.30,69.39" fill="#2cb82c" stroke="#0a2a0a" stroke-width="0.6"/><polygon points="516.25,80.41 521.15,80.41 518.70,76.00" fill="#2cb82c" stroke="#0a2a0a" stroke-width="0.6"/><polygon points="513.15,82.91 518.05,82.91 515.60,78.50" fill="#2cb82c" stroke="#0a2a0a" stroke-width="0.6"/><polygon points="405.10,115.40 411.10,115.40 408.10,110.00" fill="#2cb82c" stroke="#0a2a0a" stroke-width="0.6"/><polygon points="415.75,113.30 420.65,113.30 418.20,108.89" fill="#2cb82c" stroke="#0a2a0a" stroke-width="0.6"/><polygon points="413.75,119.41 418.65,119.41 416.20,115.00" fill="#2cb82c" stroke="#0a2a0a" stroke-width="0.6"/><polygon points="423.15,108.80 428.05,108.80 425.60,104.39" fill="#2cb82c" stroke="#0a2a0a" stroke-width="0.6"/><polygon points="426.65,105.70 431.55,105.70 429.10,101.30" fill="#2cb82c" stroke="#0a2a0a" stroke-width="0.6"/><polygon points="431.25,117.41 436.15,117.41 433.70,113.00" fill="#2cb82c" stroke="#0a2a0a" stroke-width="0.6"/><polygon points="457.05,113.80 461.95,113.80 459.50,109.39" fill="#2cb82c" stroke="#0a2a0a" stroke-width="0.6"/><polygon points="443.85,120.91 448.75,120.91 446.30,116.50" fill="#2cb82c" stroke="#0a2a0a" stroke-width="0.6"/><polygon points="400.75,136.81 405.65,136.81 403.20,132.39" fill="#2cb82c" stroke="#0a2a0a" stroke-width="0.6"/><polygon points="418.95,130.21 423.85,130.21 421.40,125.80" fill="#2cb82c" stroke="#0a2a0a" stroke-width="0.6"/><polygon points="543.45,63.50 548.35,63.50 545.90,59.09" fill="#2cb82c" stroke="#0a2a0a" stroke-width="0.6"/>
<line x1="224.70" y1="174.80" x2="234.50" y2="174.80" stroke="#2a2ad0" stroke-width="1.6"/><line x1="229.60" y1="168.70" x2="229.60" y2="180.90" stroke="#2a2ad0" stroke-width="1.6"/><line x1="246.70" y1="174.80" x2="258.70" y2="174.80" stroke="#44e044" stroke-width="1.6"/><line x1="252.70" y1="166.80" x2="252.70" y2="182.80" stroke="#44e044" stroke-width="1.6"/><line x1="268.00" y1="174.80" x2="283.80" y2="174.80" stroke="#f0b050" stroke-width="1.6"/><line x1="275.90" y1="164.80" x2="275.90" y2="184.80" stroke="#f0b050" stroke-width="1.6"/><line x1="290.90" y1="174.80" x2="306.70" y2="174.80" stroke="#e03848" stroke-width="1.6"/><line x1="298.80" y1="164.80" x2="298.80" y2="184.80" stroke="#e03848" stroke-width="1.6"/><line x1="478.00" y1="174.80" x2="495.00" y2="174.80" stroke="#2a2ad0" stroke-width="1.6"/><line x1="486.50" y1="168.70" x2="486.50" y2="180.90" stroke="#2a2ad0" stroke-width="1.6"/><line x1="506.20" y1="174.80" x2="531.20" y2="174.80" stroke="#44e044" stroke-width="1.6"/><line x1="518.70" y1="166.80" x2="518.70" y2="182.80" stroke="#44e044" stroke-width="1.6"/><line x1="534.60" y1="174.80" x2="566.60" y2="174.80" stroke="#f0b050" stroke-width="1.6"/><line x1="550.60" y1="164.80" x2="550.60" y2="184.80" stroke="#f0b050" stroke-width="1.6"/><line x1="568.00" y1="174.80" x2="598.00" y2="174.80" stroke="#e03848" stroke-width="1.6"/><line x1="583.00" y1="164.80" x2="583.00" y2="184.80" stroke="#e03848" stroke-width="1.6"/>
<rect x="60.5" y="2.5" width="269" height="203" fill="none" stroke="#555555" stroke-width="1.15"/><rect x="329.5" y="2.5" width="269" height="203" fill="none" stroke="#555555" stroke-width="1.15"/><line x1="60.50" y1="195.25" x2="65.10" y2="195.25" stroke="#555555" stroke-width="1.1"/><line x1="329.50" y1="195.25" x2="334.10" y2="195.25" stroke="#555555" stroke-width="1.1"/><line x1="329.50" y1="195.25" x2="324.90" y2="195.25" stroke="#555555" stroke-width="1.1"/><line x1="598.50" y1="195.25" x2="593.90" y2="195.25" stroke="#555555" stroke-width="1.1"/><line x1="60.50" y1="185.09" x2="70.00" y2="185.09" stroke="#555555" stroke-width="1.1"/><line x1="329.50" y1="185.09" x2="339.00" y2="185.09" stroke="#555555" stroke-width="1.1"/><line x1="329.50" y1="185.09" x2="320.00" y2="185.09" stroke="#555555" stroke-width="1.1"/><line x1="598.50" y1="185.09" x2="589.00" y2="185.09" stroke="#555555" stroke-width="1.1"/><line x1="60.50" y1="174.94" x2="65.10" y2="174.94" stroke="#555555" stroke-width="1.1"/><line x1="329.50" y1="174.94" x2="334.10" y2="174.94" stroke="#555555" stroke-width="1.1"/><line x1="329.50" y1="174.94" x2="324.90" y2="174.94" stroke="#555555" stroke-width="1.1"/><line x1="598.50" y1="174.94" x2="593.90" y2="174.94" stroke="#555555" stroke-width="1.1"/><line x1="60.50" y1="164.78" x2="65.10" y2="164.78" stroke="#555555" stroke-width="1.1"/><line x1="329.50" y1="164.78" x2="334.10" y2="164.78" stroke="#555555" stroke-width="1.1"/><line x1="329.50" y1="164.78" x2="324.90" y2="164.78" stroke="#555555" stroke-width="1.1"/><line x1="598.50" y1="164.78" x2="593.90" y2="164.78" stroke="#555555" stroke-width="1.1"/><line x1="60.50" y1="154.62" x2="65.10" y2="154.62" stroke="#555555" stroke-width="1.1"/><line x1="329.50" y1="154.62" x2="334.10" y2="154.62" stroke="#555555" stroke-width="1.1"/><line x1="329.50" y1="154.62" x2="324.90" y2="154.62" stroke="#555555" stroke-width="1.1"/><line x1="598.50" y1="154.62" x2="593.90" y2="154.62" stroke="#555555" stroke-width="1.1"/><line x1="60.50" y1="144.47" x2="65.10" y2="144.47" stroke="#555555" stroke-width="1.1"/><line x1="329.50" y1="144.47" x2="334.10" y2="144.47" stroke="#555555" stroke-width="1.1"/><line x1="329.50" y1="144.47" x2="324.90" y2="144.47" stroke="#555555" stroke-width="1.1"/><line x1="598.50" y1="144.47" x2="593.90" y2="144.47" stroke="#555555" stroke-width="1.1"/><line x1="60.50" y1="134.32" x2="70.00" y2="134.32" stroke="#555555" stroke-width="1.1"/><line x1="329.50" y1="134.32" x2="339.00" y2="134.32" stroke="#555555" stroke-width="1.1"/><line x1="329.50" y1="134.32" x2="320.00" y2="134.32" stroke="#555555" stroke-width="1.1"/><line x1="598.50" y1="134.32" x2="589.00" y2="134.32" stroke="#555555" stroke-width="1.1"/><line x1="60.50" y1="124.16" x2="65.10" y2="124.16" stroke="#555555" stroke-width="1.1"/><line x1="329.50" y1="124.16" x2="334.10" y2="124.16" stroke="#555555" stroke-width="1.1"/><line x1="329.50" y1="124.16" x2="324.90" y2="124.16" stroke="#555555" stroke-width="1.1"/><line x1="598.50" y1="124.16" x2="593.90" y2="124.16" stroke="#555555" stroke-width="1.1"/><line x1="60.50" y1="114.01" x2="65.10" y2="114.01" stroke="#555555" stroke-width="1.1"/><line x1="329.50" y1="114.01" x2="334.10" y2="114.01" stroke="#555555" stroke-width="1.1"/><line x1="329.50" y1="114.01" x2="324.90" y2="114.01" stroke="#555555" stroke-width="1.1"/><line x1="598.50" y1="114.01" x2="593.90" y2="114.01" stroke="#555555" stroke-width="1.1"/><line x1="60.50" y1="103.85" x2="65.10" y2="103.85" stroke="#555555" stroke-width="1.1"/><line x1="329.50" y1="103.85" x2="334.10" y2="103.85" stroke="#555555" stroke-width="1.1"/><line x1="329.50" y1="103.85" x2="324.90" y2="103.85" stroke="#555555" stroke-width="1.1"/><line x1="598.50" y1="103.85" x2="593.90" y2="103.85" stroke="#555555" stroke-width="1.1"/><line x1="60.50" y1="93.69" x2="65.10" y2="93.69" stroke="#555555" stroke-width="1.1"/><line x1="329.50" y1="93.69" x2="334.10" y2="93.69" stroke="#555555" stroke-width="1.1"/><line x1="329.50" y1="93.69" x2="324.90" y2="93.69" stroke="#555555" stroke-width="1.1"/><line x1="598.50" y1="93.69" x2="593.90" y2="93.69" stroke="#555555" stroke-width="1.1"/><line x1="60.50" y1="83.54" x2="70.00" y2="83.54" stroke="#555555" stroke-width="1.1"/><line x1="329.50" y1="83.54" x2="339.00" y2="83.54" stroke="#555555" stroke-width="1.1"/><line x1="329.50" y1="83.54" x2="320.00" y2="83.54" stroke="#555555" stroke-width="1.1"/><line x1="598.50" y1="83.54" x2="589.00" y2="83.54" stroke="#555555" stroke-width="1.1"/><line x1="60.50" y1="73.39" x2="65.10" y2="73.39" stroke="#555555" stroke-width="1.1"/><line x1="329.50" y1="73.39" x2="334.10" y2="73.39" stroke="#555555" stroke-width="1.1"/><line x1="329.50" y1="73.39" x2="324.90" y2="73.39" stroke="#555555" stroke-width="1.1"/><line x1="598.50" y1="73.39" x2="593.90" y2="73.39" stroke="#555555" stroke-width="1.1"/><line x1="60.50" y1="63.23" x2="65.10" y2="63.23" stroke="#555555" stroke-width="1.1"/><line x1="329.50" y1="63.23" x2="334.10" y2="63.23" stroke="#555555" stroke-width="1.1"/><line x1="329.50" y1="63.23" x2="324.90" y2="63.23" stroke="#555555" stroke-width="1.1"/><line x1="598.50" y1="63.23" x2="593.90" y2="63.23" stroke="#555555" stroke-width="1.1"/><line x1="60.50" y1="53.07" x2="65.10" y2="53.07" stroke="#555555" stroke-width="1.1"/><line x1="329.50" y1="53.07" x2="334.10" y2="53.07" stroke="#555555" stroke-width="1.1"/><line x1="329.50" y1="53.07" x2="324.90" y2="53.07" stroke="#555555" stroke-width="1.1"/><line x1="598.50" y1="53.07" x2="593.90" y2="53.07" stroke="#555555" stroke-width="1.1"/><line x1="60.50" y1="42.92" x2="65.10" y2="42.92" stroke="#555555" stroke-width="1.1"/><line x1="329.50" y1="42.92" x2="334.10" y2="42.92" stroke="#555555" stroke-width="1.1"/><line x1="329.50" y1="42.92" x2="324.90" y2="42.92" stroke="#555555" stroke-width="1.1"/><line x1="598.50" y1="42.92" x2="593.90" y2="42.92" stroke="#555555" stroke-width="1.1"/><line x1="60.50" y1="32.77" x2="70.00" y2="32.77" stroke="#555555" stroke-width="1.1"/><line x1="329.50" y1="32.77" x2="339.00" y2="32.77" stroke="#555555" stroke-width="1.1"/><line x1="329.50" y1="32.77" x2="320.00" y2="32.77" stroke="#555555" stroke-width="1.1"/><line x1="598.50" y1="32.77" x2="589.00" y2="32.77" stroke="#555555" stroke-width="1.1"/><line x1="60.50" y1="22.61" x2="65.10" y2="22.61" stroke="#555555" stroke-width="1.1"/><line x1="329.50" y1="22.61" x2="334.10" y2="22.61" stroke="#555555" stroke-width="1.1"/><line x1="329.50" y1="22.61" x2="324.90" y2="22.61" stroke="#555555" stroke-width="1.1"/><line x1="598.50" y1="22.61" x2="593.90" y2="22.61" stroke="#555555" stroke-width="1.1"/><line x1="60.50" y1="12.46" x2="65.10" y2="12.46" stroke="#555555" stroke-width="1.1"/><line x1="329.50" y1="12.46" x2="334.10" y2="12.46" stroke="#555555" stroke-width="1.1"/><line x1="329.50" y1="12.46" x2="324.90" y2="12.46" stroke="#555555" stroke-width="1.1"/><line x1="598.50" y1="12.46" x2="593.90" y2="12.46" stroke="#555555" stroke-width="1.1"/><line x1="68.20" y1="205.20" x2="68.20" y2="201.60" stroke="#555555" stroke-width="1.1"/><line x1="68.20" y1="2.30" x2="68.20" y2="5.90" stroke="#555555" stroke-width="1.1"/><line x1="83.60" y1="205.20" x2="83.60" y2="201.60" stroke="#555555" stroke-width="1.1"/><line x1="83.60" y1="2.30" x2="83.60" y2="5.90" stroke="#555555" stroke-width="1.1"/><line x1="99.00" y1="205.20" x2="99.00" y2="197.70" stroke="#555555" stroke-width="1.1"/><line x1="99.00" y1="2.30" x2="99.00" y2="9.80" stroke="#555555" stroke-width="1.1"/><line x1="114.40" y1="205.20" x2="114.40" y2="201.60" stroke="#555555" stroke-width="1.1"/><line x1="114.40" y1="2.30" x2="114.40" y2="5.90" stroke="#555555" stroke-width="1.1"/><line x1="129.80" y1="205.20" x2="129.80" y2="201.60" stroke="#555555" stroke-width="1.1"/><line x1="129.80" y1="2.30" x2="129.80" y2="5.90" stroke="#555555" stroke-width="1.1"/><line x1="145.20" y1="205.20" x2="145.20" y2="201.60" stroke="#555555" stroke-width="1.1"/><line x1="145.20" y1="2.30" x2="145.20" y2="5.90" stroke="#555555" stroke-width="1.1"/><line x1="160.60" y1="205.20" x2="160.60" y2="201.60" stroke="#555555" stroke-width="1.1"/><line x1="160.60" y1="2.30" x2="160.60" y2="5.90" stroke="#555555" stroke-width="1.1"/><line x1="176.00" y1="205.20" x2="176.00" y2="197.70" stroke="#555555" stroke-width="1.1"/><line x1="176.00" y1="2.30" x2="176.00" y2="9.80" stroke="#555555" stroke-width="1.1"/><line x1="191.40" y1="205.20" x2="191.40" y2="201.60" stroke="#555555" stroke-width="1.1"/><line x1="191.40" y1="2.30" x2="191.40" y2="5.90" stroke="#555555" stroke-width="1.1"/><line x1="206.80" y1="205.20" x2="206.80" y2="201.60" stroke="#555555" stroke-width="1.1"/><line x1="206.80" y1="2.30" x2="206.80" y2="5.90" stroke="#555555" stroke-width="1.1"/><line x1="222.20" y1="205.20" x2="222.20" y2="201.60" stroke="#555555" stroke-width="1.1"/><line x1="222.20" y1="2.30" x2="222.20" y2="5.90" stroke="#555555" stroke-width="1.1"/><line x1="237.60" y1="205.20" x2="237.60" y2="201.60" stroke="#555555" stroke-width="1.1"/><line x1="237.60" y1="2.30" x2="237.60" y2="5.90" stroke="#555555" stroke-width="1.1"/><line x1="253.00" y1="205.20" x2="253.00" y2="197.70" stroke="#555555" stroke-width="1.1"/><line x1="253.00" y1="2.30" x2="253.00" y2="9.80" stroke="#555555" stroke-width="1.1"/><line x1="268.40" y1="205.20" x2="268.40" y2="201.60" stroke="#555555" stroke-width="1.1"/><line x1="268.40" y1="2.30" x2="268.40" y2="5.90" stroke="#555555" stroke-width="1.1"/><line x1="283.80" y1="205.20" x2="283.80" y2="201.60" stroke="#555555" stroke-width="1.1"/><line x1="283.80" y1="2.30" x2="283.80" y2="5.90" stroke="#555555" stroke-width="1.1"/><line x1="299.20" y1="205.20" x2="299.20" y2="201.60" stroke="#555555" stroke-width="1.1"/><line x1="299.20" y1="2.30" x2="299.20" y2="5.90" stroke="#555555" stroke-width="1.1"/><line x1="314.60" y1="205.20" x2="314.60" y2="201.60" stroke="#555555" stroke-width="1.1"/><line x1="314.60" y1="2.30" x2="314.60" y2="5.90" stroke="#555555" stroke-width="1.1"/><line x1="342.30" y1="205.20" x2="342.30" y2="201.60" stroke="#555555" stroke-width="1.1"/><line x1="342.30" y1="2.30" x2="342.30" y2="5.90" stroke="#555555" stroke-width="1.1"/><line x1="358.33" y1="205.20" x2="358.33" y2="201.60" stroke="#555555" stroke-width="1.1"/><line x1="358.33" y1="2.30" x2="358.33" y2="5.90" stroke="#555555" stroke-width="1.1"/><line x1="374.36" y1="205.20" x2="374.36" y2="201.60" stroke="#555555" stroke-width="1.1"/><line x1="374.36" y1="2.30" x2="374.36" y2="5.90" stroke="#555555" stroke-width="1.1"/><line x1="390.40" y1="205.20" x2="390.40" y2="197.70" stroke="#555555" stroke-width="1.1"/><line x1="390.40" y1="2.30" x2="390.40" y2="9.80" stroke="#555555" stroke-width="1.1"/><line x1="406.43" y1="205.20" x2="406.43" y2="201.60" stroke="#555555" stroke-width="1.1"/><line x1="406.43" y1="2.30" x2="406.43" y2="5.90" stroke="#555555" stroke-width="1.1"/><line x1="422.47" y1="205.20" x2="422.47" y2="201.60" stroke="#555555" stroke-width="1.1"/><line x1="422.47" y1="2.30" x2="422.47" y2="5.90" stroke="#555555" stroke-width="1.1"/><line x1="438.50" y1="205.20" x2="438.50" y2="201.60" stroke="#555555" stroke-width="1.1"/><line x1="438.50" y1="2.30" x2="438.50" y2="5.90" stroke="#555555" stroke-width="1.1"/><line x1="454.54" y1="205.20" x2="454.54" y2="197.70" stroke="#555555" stroke-width="1.1"/><line x1="454.54" y1="2.30" x2="454.54" y2="9.80" stroke="#555555" stroke-width="1.1"/><line x1="470.57" y1="205.20" x2="470.57" y2="201.60" stroke="#555555" stroke-width="1.1"/><line x1="470.57" y1="2.30" x2="470.57" y2="5.90" stroke="#555555" stroke-width="1.1"/><line x1="486.61" y1="205.20" x2="486.61" y2="201.60" stroke="#555555" stroke-width="1.1"/><line x1="486.61" y1="2.30" x2="486.61" y2="5.90" stroke="#555555" stroke-width="1.1"/><line x1="502.64" y1="205.20" x2="502.64" y2="201.60" stroke="#555555" stroke-width="1.1"/><line x1="502.64" y1="2.30" x2="502.64" y2="5.90" stroke="#555555" stroke-width="1.1"/><line x1="518.68" y1="205.20" x2="518.68" y2="197.70" stroke="#555555" stroke-width="1.1"/><line x1="518.68" y1="2.30" x2="518.68" y2="9.80" stroke="#555555" stroke-width="1.1"/><line x1="534.72" y1="205.20" x2="534.72" y2="201.60" stroke="#555555" stroke-width="1.1"/><line x1="534.72" y1="2.30" x2="534.72" y2="5.90" stroke="#555555" stroke-width="1.1"/><line x1="550.75" y1="205.20" x2="550.75" y2="201.60" stroke="#555555" stroke-width="1.1"/><line x1="550.75" y1="2.30" x2="550.75" y2="5.90" stroke="#555555" stroke-width="1.1"/><line x1="566.78" y1="205.20" x2="566.78" y2="201.60" stroke="#555555" stroke-width="1.1"/><line x1="566.78" y1="2.30" x2="566.78" y2="5.90" stroke="#555555" stroke-width="1.1"/><line x1="582.82" y1="205.20" x2="582.82" y2="197.70" stroke="#555555" stroke-width="1.1"/><line x1="582.82" y1="2.30" x2="582.82" y2="9.80" stroke="#555555" stroke-width="1.1"/>
<text x="43.00" y="36.66" font-size="15" fill="#2a2a2a" textLength="7.0" lengthAdjust="spacingAndGlyphs">1</text><text x="29.00" y="87.44" font-size="15" fill="#2a2a2a" textLength="22.0" lengthAdjust="spacingAndGlyphs">0.5</text><text x="42.00" y="138.22" font-size="15" fill="#2a2a2a" textLength="8.4" lengthAdjust="spacingAndGlyphs">0</text><text x="18.25" y="188.99" font-size="15" fill="#2a2a2a" textLength="32.5" lengthAdjust="spacingAndGlyphs">−0.5</text><text x="90.00" y="221.90" font-size="15" fill="#2a2a2a" textLength="17.2" lengthAdjust="spacingAndGlyphs">10</text><text x="167.00" y="221.90" font-size="15" fill="#2a2a2a" textLength="17.2" lengthAdjust="spacingAndGlyphs">11</text><text x="244.00" y="221.90" font-size="15" fill="#2a2a2a" textLength="17.2" lengthAdjust="spacingAndGlyphs">12</text><text x="321.00" y="221.90" font-size="15" fill="#2a2a2a" textLength="17.2" lengthAdjust="spacingAndGlyphs">13</text><text x="386.50" y="221.90" font-size="15" fill="#2a2a2a" textLength="8.4" lengthAdjust="spacingAndGlyphs">2</text><text x="443.64" y="221.90" font-size="15" fill="#2a2a2a" textLength="22.4" lengthAdjust="spacingAndGlyphs">2.2</text><text x="507.78" y="221.90" font-size="15" fill="#2a2a2a" textLength="22.4" lengthAdjust="spacingAndGlyphs">2.4</text><text x="571.92" y="221.90" font-size="15" fill="#2a2a2a" textLength="22.4" lengthAdjust="spacingAndGlyphs">2.6</text><text x="78" y="30.5" font-size="17" text-anchor="start" fill="#2a2a2a" letter-spacing="0.8">(a)</text><text x="347" y="30.5" font-size="17" text-anchor="start" fill="#2a2a2a" letter-spacing="0.8">(b)</text><text x="142.30" y="243.50" font-size="15.5" fill="#2a2a2a" textLength="21.4" lengthAdjust="spacingAndGlyphs">log</text><text x="173.80" y="243.50" font-size="15.5" fill="#2a2a2a" textLength="35.2" lengthAdjust="spacingAndGlyphs">Mass</text><text x="218.60" y="243.80" font-size="17" fill="#2a2a2a" textLength="4.6" lengthAdjust="spacingAndGlyphs">[</text><text x="224.60" y="243.50" font-size="15.5" fill="#2a2a2a" textLength="11.0" lengthAdjust="spacingAndGlyphs">M</text><circle cx="238.8" cy="243.2" r="2.9" fill="none" stroke="#2a2a2a" stroke-width="0.8"/><circle cx="238.8" cy="243.2" r="0.65" fill="#2a2a2a"/><text x="243.20" y="243.80" font-size="17" fill="#2a2a2a" textLength="4.6" lengthAdjust="spacingAndGlyphs">]</text><text x="443.40" y="243.50" font-size="15.5" fill="#2a2a2a" textLength="22.4" lengthAdjust="spacingAndGlyphs">log</text><text x="474.20" y="243.50" font-size="15.5" fill="#2a2a2a" textLength="9.6" lengthAdjust="spacingAndGlyphs" font-style="italic">σ</text><text transform="translate(12.3,172.2) rotate(-90)" font-size="15.5" fill="#2a2a2a" textLength="25.0" lengthAdjust="spacingAndGlyphs">log</text><text transform="translate(12.3,140.8) rotate(-90)" font-size="15.5" fill="#2a2a2a" textLength="29.5" lengthAdjust="spacingAndGlyphs">M/L</text><text transform="translate(15.3,110.8) rotate(-90)" font-size="10.5" fill="#2a2a2a" textLength="5.0" lengthAdjust="spacingAndGlyphs">B</text><text transform="translate(12.8,96.8) rotate(-90)" font-size="17" fill="#2a2a2a" textLength="5.0" lengthAdjust="spacingAndGlyphs">[</text><text transform="translate(12.3,89.0) rotate(-90)" font-size="15.5" fill="#2a2a2a" textLength="42.0" lengthAdjust="spacingAndGlyphs">(M/L)</text><text transform="translate(12.8,39.0) rotate(-90)" font-size="17" fill="#2a2a2a" textLength="4.4" lengthAdjust="spacingAndGlyphs">]</text><circle cx="12.0" cy="43.9" r="2.6" fill="none" stroke="#2a2a2a" stroke-width="0.75"/><circle cx="12.0" cy="43.9" r="0.6" fill="#2a2a2a"/><text x="288" y="33" font-size="8.8" text-anchor="start" fill="#111" stroke="#111" stroke-width="0.2">1567</text><text x="267" y="53.5" font-size="8.8" text-anchor="start" fill="#111" stroke="#111" stroke-width="0.2">1720</text><text x="313" y="53.5" font-size="8.8" text-anchor="start" fill="#111" stroke="#111" stroke-width="0.2">563</text><text transform="translate(123,54.5) rotate(-52)" font-size="12.8" fill="#2020c0">M<tspan font-size="9" dy="2.5">B</tspan><tspan dy="-2.5">=−18.6</tspan></text><text transform="translate(172,37) rotate(-55)" font-size="15" fill="#22d822" stroke="#22d822" stroke-width="0.35">−19.8</text><text transform="translate(197,36.8) rotate(-55)" font-size="15" fill="#f0a030" stroke="#f0a030" stroke-width="0.35">−20.5</text>
</svg>
</body></html>
